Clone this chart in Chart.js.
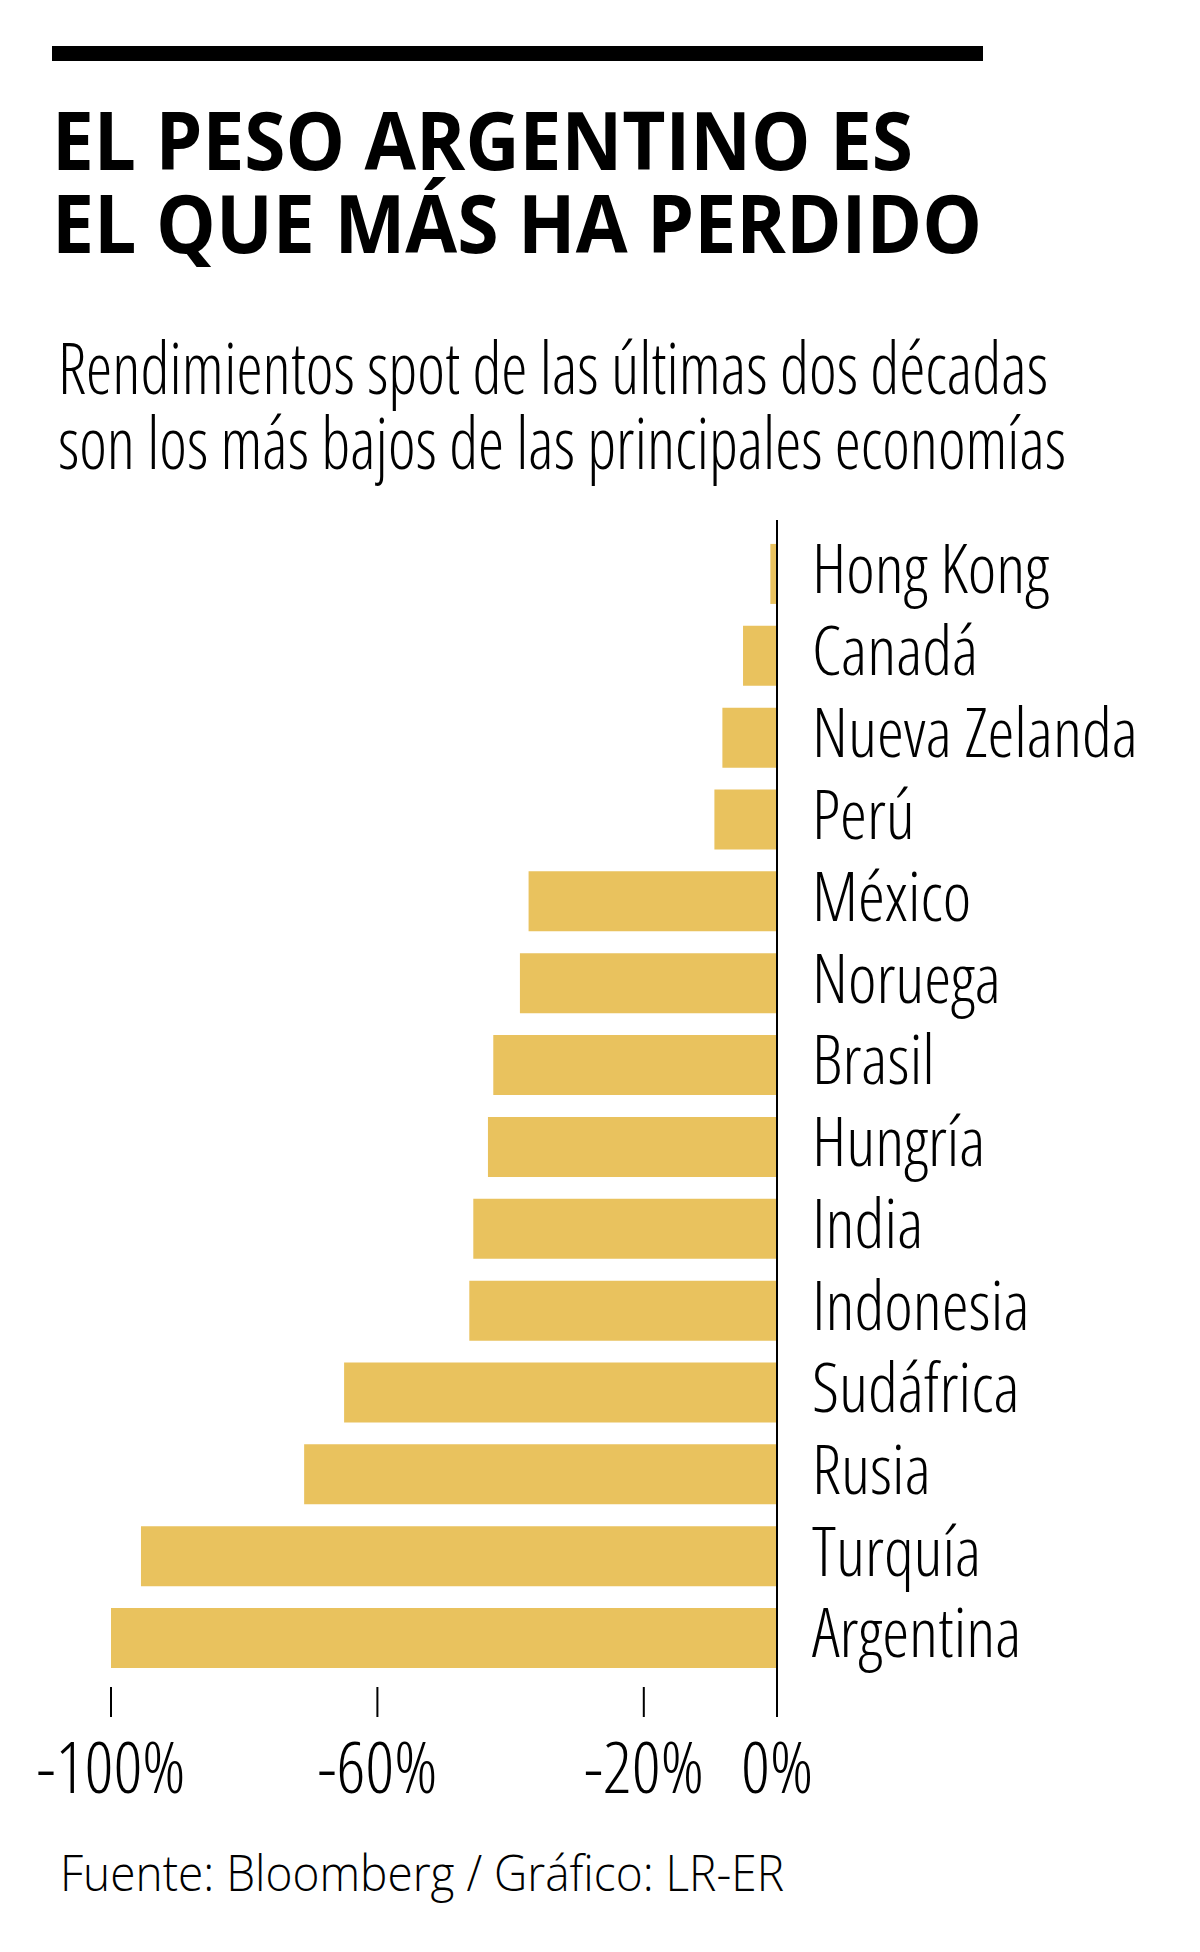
<!DOCTYPE html>
<html>
<head>
<meta charset="utf-8">
<script src="https://cdn.jsdelivr.net/npm/chart.js@4.4.1/dist/chart.umd.min.js"></script>
<style>
  body { margin: 0; background: #fff; width: 1200px; height: 1952px; position: relative; overflow: hidden; }
  .rule { position: absolute; left: 52px; top: 46px; width: 931px; height: 15px; background: #000; }
  .fit { position: absolute; white-space: nowrap; transform-origin: 0 0; color: #000; }
  .title { font-family: 'Open Sans', sans-serif; font-weight: 700; font-size: 80px; line-height: 83px; }
  .sub { font-family: 'Open Sans', sans-serif; font-weight: 300; font-stretch: 75%; font-size: 71px; line-height: 75px; }
  .foot { font-family: 'Open Sans', sans-serif; font-weight: 300; font-size: 49px; line-height: 60px; }
  #wrap { position: absolute; left: 0; top: 480px; width: 1200px; height: 1349px; }
</style>
</head>
<body>
<div class="rule"></div>
<div class="fit title" style="left:52px;top:97px" data-w="861">EL PESO ARGENTINO ES</div>
<div class="fit title" style="left:52px;top:180px" data-w="930">EL QUE MÁS HA PERDIDO</div>
<div class="fit sub" style="left:58px;top:329px" data-w="990">Rendimientos spot de las últimas dos décadas</div>
<div class="fit sub" style="left:58px;top:404px" data-w="1008">son los más bajos de las principales economías</div>
<div class="fit foot" style="left:60px;top:1842px" data-w="724">Fuente: Bloomberg / Gráfico: LR-ER</div>
<div id="wrap"><canvas id="chart"></canvas></div>
<script>
// Datos (lectura del gráfico original)
const COUNTRIES = ["Hong Kong", "Canadá", "Nueva Zelanda", "Perú", "México", "Noruega", "Brasil",
  "Hungría", "India", "Indonesia", "Sudáfrica", "Rusia", "Turquía", "Argentina"];
const RETURNS = [-1.0, -5.1, -8.2, -9.4, -37.3, -38.6, -42.6, -43.4, -45.6, -46.2, -65.0, -71.0, -95.5, -100.0];
const TICK_VALUES = [-100, -60, -20, 0];

const BAR_COLOR = '#E9C25E';
const LABEL_FONT = "'Open Sans', sans-serif";
// Chart.js arma "peso tamaño familia", se cuela el ancho condensado en el peso
const LABEL_WEIGHT = '300 condensed';

// ajustar ancho de los textos (fuente condensada)
function fitTexts() {
  document.querySelectorAll('.fit').forEach(el => {
    const w = el.getBoundingClientRect().width;
    const target = parseFloat(el.dataset.w);
    el.style.transform = `scaleX(${target / w})`;
  });
}

// linea del cero y marcas del eje
const axisMarks = {
  id: 'axisMarks',
  afterDatasetsDraw(chart) {
    const { ctx, chartArea, scales: { x } } = chart;
    ctx.save();
    ctx.strokeStyle = '#000';
    ctx.lineWidth = 2;
    const zx = x.getPixelForValue(0);
    ctx.beginPath();
    ctx.moveTo(zx, chartArea.top - 13);
    ctx.lineTo(zx, chartArea.bottom + 38);
    TICK_VALUES.filter(v => v !== 0).forEach(v => {
      const px = x.getPixelForValue(v);
      ctx.moveTo(px, chartArea.bottom + 8);
      ctx.lineTo(px, chartArea.bottom + 38);
    });
    ctx.stroke();
    ctx.restore();
  }
};

function render() {
  const ctx = document.getElementById('chart').getContext('2d');
  new Chart(ctx, {
    type: 'bar',
    data: {
      labels: COUNTRIES,
      datasets: [{
        data: RETURNS,
        backgroundColor: BAR_COLOR,
        barPercentage: 0.733,
        categoryPercentage: 1
      }]
    },
    options: {
      indexAxis: 'y',
      responsive: true,
      maintainAspectRatio: false,
      animation: false,
      layout: { padding: { top: 53, left: 111, right: 0, bottom: 0 } },
      plugins: { legend: { display: false }, tooltip: { enabled: false } },
      scales: {
        x: {
          min: -100,
          max: 0,
          afterBuildTicks: scale => { scale.ticks = TICK_VALUES.map(v => ({ value: v })); },
          afterFit: scale => {
            scale.height = 150;
            scale.paddingLeft = 0;
            scale.paddingRight = 0;
          },
          grid: { display: false, drawTicks: false },
          border: { display: false },
          ticks: {
            color: '#000',
            padding: 51,
            maxRotation: 0,
            autoSkip: false,
            font: { family: LABEL_FONT, size: 71, weight: LABEL_WEIGHT },
            callback: v => v + '%'
          }
        },
        y: {
          position: 'right',
          afterFit: scale => {
            scale.width = 423;
            scale.paddingTop = 0;
            scale.paddingBottom = 0;
          },
          grid: { display: false, drawTicks: false },
          border: { display: false },
          ticks: {
            color: '#000',
            padding: 35,
            autoSkip: false,
            font: { family: LABEL_FONT, size: 68, weight: LABEL_WEIGHT }
          }
        }
      }
    },
    plugins: [axisMarks]
  });
}

document.fonts.ready.then(() => {
  fitTexts();
  render();
});
</script>
</body>
</html>
